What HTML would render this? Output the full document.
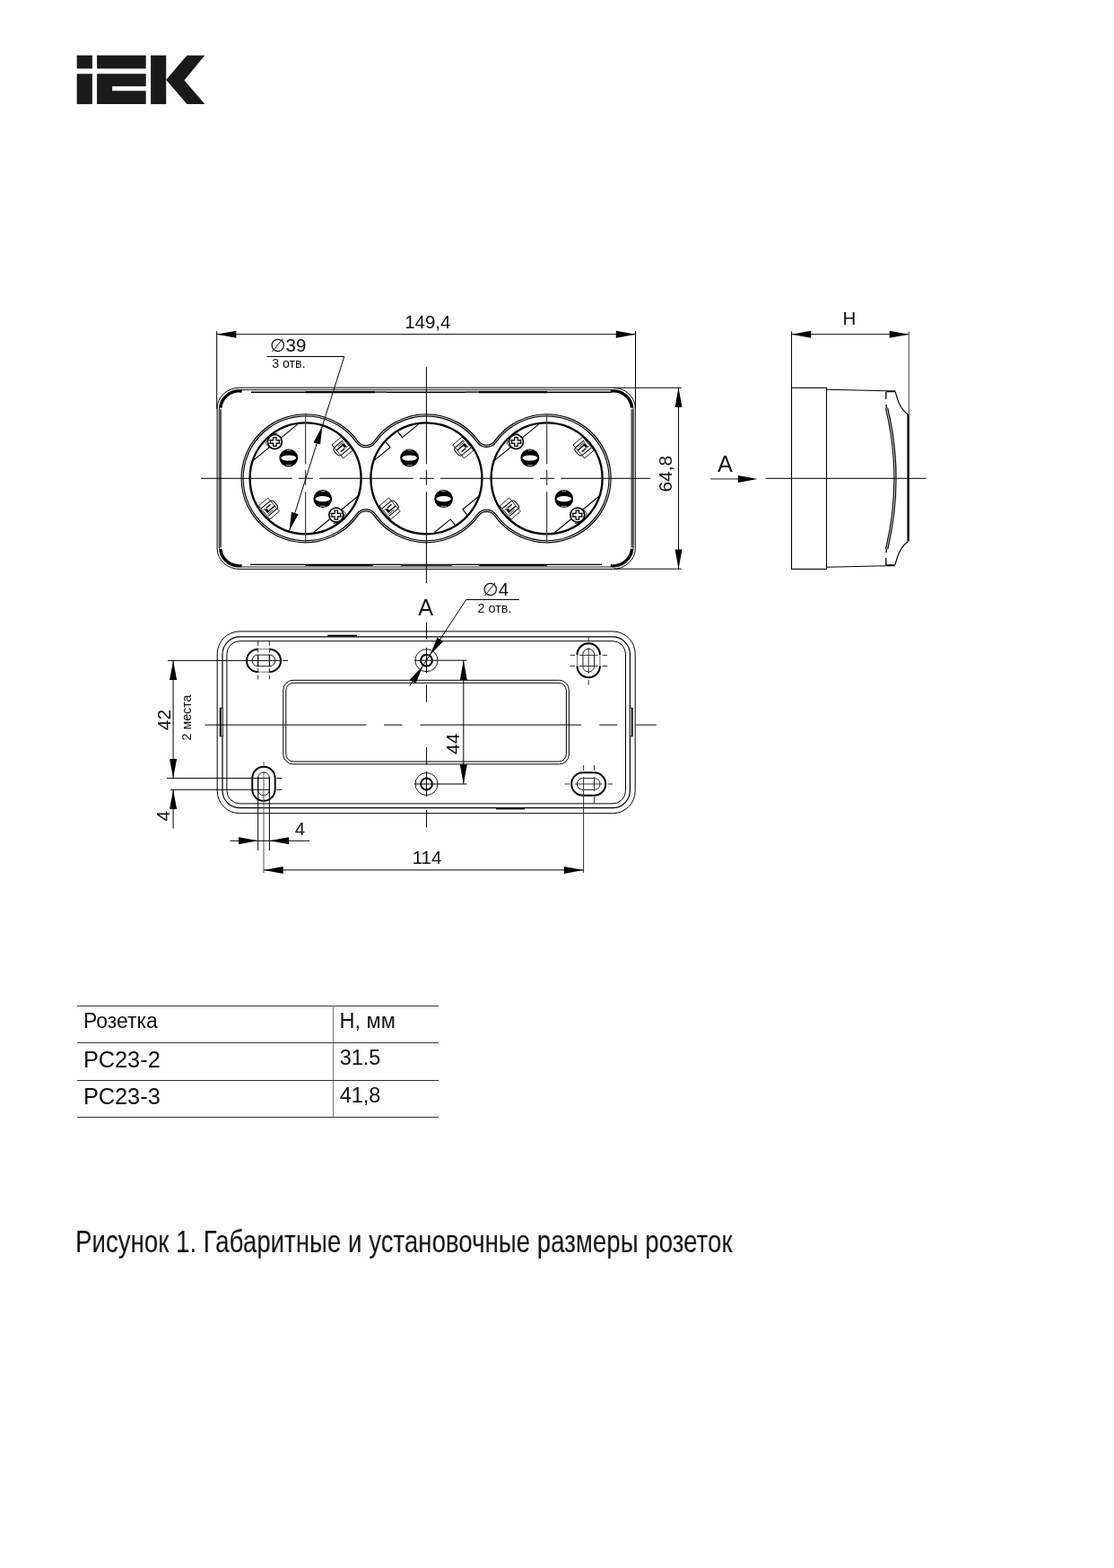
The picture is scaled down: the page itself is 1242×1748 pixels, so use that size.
<!DOCTYPE html>
<html lang="ru">
<head>
<meta charset="utf-8">
<title>Рисунок 1. Габаритные и установочные размеры розеток</title>
<style>
html,body{margin:0;padding:0;background:#fefefe;}
body{width:1242px;height:1748px;position:relative;overflow:hidden;font-family:"Liberation Sans",sans-serif;color:#111;}
svg{position:absolute;left:0;top:0;display:block;will-change:transform;}
table.spec,p.caption{will-change:transform;}
svg text{font-family:"Liberation Sans",sans-serif;fill:#111;}
svg .dia{font-family:"DejaVu Sans","Liberation Sans",sans-serif;font-size:20.2px;}
table.spec{position:absolute;left:86px;top:1121px;width:403px;border-collapse:collapse;table-layout:fixed;font-size:23.5px;line-height:1;}
table.spec td{height:41.3px;padding:0;border-top:1.2px solid #333;border-bottom:1.2px solid #333;vertical-align:top;box-sizing:border-box;white-space:nowrap;}
table.spec td.c1{width:285px;border-right:1.4px solid #777;}
table.spec td span{display:block;position:relative;height:0;transform:scaleX(0.975);transform-origin:0 0;}
table.spec td span.b{font-size:24.9px;transform:scaleX(1.02);}
p.caption{position:absolute;left:83.6px;top:1363.6px;margin:0;font-size:34.5px;line-height:40px;white-space:nowrap;transform:scaleX(0.802);transform-origin:0 0;color:#111;}
</style>
</head>
<body>
<svg width="1242" height="1748" viewBox="0 0 1242 1748">
<g id="logo" role="img" aria-label="IEK" fill="#1a1a1a"><title>IEK</title>
<rect x="85.7" y="61.7" width="17.2" height="14.8"/>
<rect x="85.7" y="82.3" width="17.2" height="33.8"/>
<rect x="108.1" y="61.7" width="54.6" height="14.8"/>
<path d="M108.1 82.3H162.7V96.2H125.1V101.2H162.7V116.1H108.1Z"/>
<rect x="168.1" y="61.7" width="17.1" height="54.4"/>
<path d="M208.4 61.7H228.3L205.5 89.4L228.3 116.1H208.4L185.2 88.9Z"/>
</g>
<g id="top-view">
<rect x="242.1" y="432.2" width="466.2" height="202.2" rx="25" ry="23" fill="none" stroke="#000" stroke-width="1"/>
<rect x="244.5" y="434.6" width="461.4" height="197.4" rx="22.6" ry="20.6" fill="none" stroke="#000" stroke-width="0.9"/>
<line x1="245.3" y1="456.2" x2="245.3" y2="610.4" stroke="#555" stroke-width="3.4" />
<line x1="705.1" y1="456.2" x2="705.1" y2="610.4" stroke="#555" stroke-width="3.4" />
<path d="M246 454.7A20.6 20.6 0 0 1 269.6 436.1" fill="none" stroke="#000" stroke-width="3.1"/>
<path d="M704.4 454.7A20.6 20.6 0 0 0 680.8 436.1" fill="none" stroke="#000" stroke-width="3.1"/>
<path d="M246 611.9A20.6 20.6 0 0 0 269.6 630.5" fill="none" stroke="#000" stroke-width="3.1"/>
<path d="M704.4 611.9A20.6 20.6 0 0 1 680.8 630.5" fill="none" stroke="#000" stroke-width="3.1"/>
<line x1="280" y1="437.2" x2="681.5" y2="437.2" stroke="#000" stroke-width="1.4" />
<line x1="279" y1="629.4" x2="671" y2="629.4" stroke="#000" stroke-width="1.4" />
<line x1="340.5" y1="437.2" x2="418" y2="437.2" stroke="#000" stroke-width="2.2" />
<line x1="418" y1="437.2" x2="431" y2="437.2" stroke="#444" stroke-width="1.8" />
<line x1="518.3" y1="437.2" x2="534" y2="437.2" stroke="#444" stroke-width="1.8" />
<line x1="534" y1="437.2" x2="610" y2="437.2" stroke="#000" stroke-width="2.2" />
<line x1="340.5" y1="630" x2="415.8" y2="630" stroke="#000" stroke-width="2.2" />
<line x1="446.8" y1="630.2" x2="503.8" y2="630.2" stroke="#333" stroke-width="1.8" />
<line x1="533.8" y1="630" x2="610" y2="630" stroke="#000" stroke-width="2.2" />
<path d="M398.2 492.64A12 12 0 0 0 417.8 492.64A70.5 70.5 0 0 1 532.74 492.28A12 12 0 0 0 552.26 492.28A70.5 70.5 0 1 1 552.26 574.32A12 12 0 0 0 532.74 574.32A70.5 70.5 0 0 1 417.8 573.96A12 12 0 0 0 398.2 573.96A70.5 70.5 0 1 1 398.2 492.64Z" fill="none" stroke="#000" stroke-width="3.2"/>
<path d="M398.2 492.64A12 12 0 0 0 417.8 492.64A70.5 70.5 0 0 1 532.74 492.28A12 12 0 0 0 552.26 492.28A70.5 70.5 0 1 1 552.26 574.32A12 12 0 0 0 532.74 574.32A70.5 70.5 0 0 1 417.8 573.96A12 12 0 0 0 398.2 573.96A70.5 70.5 0 1 1 398.2 492.64Z" fill="none" stroke="#fff" stroke-width="0.9"/>
<line x1="281.6" y1="513.9" x2="331.6" y2="473.1" stroke="#000" stroke-width="1.1" />
<path d="M295.9 494L303.4 484L309.4 483M295.9 494L300.4 499.5" stroke="#000" stroke-width="0.8" fill="none"/>
<circle cx="306.4" cy="492.5" r="8.0" fill="#fff" stroke="#000" stroke-width="1.6"/>
<path d="M299.2 490.8H313.6M299.2 494.2H313.6" stroke="#222" stroke-width="0.8" fill="none"/>
<path d="M304.7 487.6H308.1V490.8H311.3V494.2H308.1V497.4H304.7V494.2H301.5V490.8H304.7Z" fill="#fff" stroke="#000" stroke-width="1.25"/>
<line x1="399.6" y1="552.7" x2="349.6" y2="593.5" stroke="#000" stroke-width="1.1" />
<path d="M385.3 572.6L377.8 582.6L371.8 583.6M385.3 572.6L380.8 567.1" stroke="#000" stroke-width="0.8" fill="none"/>
<circle cx="374.8" cy="574.1" r="8.0" fill="#fff" stroke="#000" stroke-width="1.6"/>
<path d="M367.6 572.4H382M367.6 575.8H382" stroke="#222" stroke-width="0.8" fill="none"/>
<path d="M373.1 569.2H376.5V572.4H379.7V575.8H376.5V579H373.1V575.8H369.9V572.4H373.1Z" fill="#fff" stroke="#000" stroke-width="1.25"/>
<g transform="translate(381.6 499) rotate(-40)" fill="none" stroke="#000">
<rect x="-6.9" y="-9.8" width="13.8" height="19.6" stroke-width="0.8"/>
<path d="M5.6 -5.8H-6Q-9.4 -5.8 -9.4 -2.4V1.6Q-9.4 5.6 -5.6 5.6H6.6" stroke-width="1.05"/>
<path d="M-6.8 -1.9H2.6M-4.4 2.4H1.6" stroke-width="1.4"/>
<path d="M-3 -4H5.4M2.4 2.6H5.8" stroke-width="0.8"/>
<path d="M1.6 -2.8H4.6V1.8H1.6Z" fill="#000" stroke="none"/>
</g>
<g transform="translate(299.8 567) rotate(140)" fill="none" stroke="#000">
<rect x="-6.9" y="-9.8" width="13.8" height="19.6" stroke-width="0.8"/>
<path d="M5.6 -5.8H-6Q-9.4 -5.8 -9.4 -2.4V1.6Q-9.4 5.6 -5.6 5.6H6.6" stroke-width="1.05"/>
<path d="M-6.8 -1.9H2.6M-4.4 2.4H1.6" stroke-width="1.4"/>
<path d="M-3 -4H5.4M2.4 2.6H5.8" stroke-width="0.8"/>
<path d="M1.6 -2.8H4.6V1.8H1.6Z" fill="#000" stroke="none"/>
</g>
<ellipse cx="321.8" cy="510.5" rx="10.4" ry="10" fill="#000"/>
<ellipse cx="321.8" cy="510.5" rx="8.3" ry="3.1" fill="#fff"/>
<path d="M319.6 502.1H324M319 518.7H324.8" stroke="#fff" stroke-width="0.7" fill="none"/>
<ellipse cx="359.8" cy="556.1" rx="10.4" ry="10" fill="#000"/>
<ellipse cx="359.8" cy="556.1" rx="8.3" ry="3.1" fill="#fff"/>
<path d="M357.6 547.7H362M357 564.3H362.8" stroke="#fff" stroke-width="0.7" fill="none"/>
<circle cx="340.6" cy="533.3" r="62" fill="none" stroke="#000" stroke-width="2.3"/>
<path d="M416.4 513.9L434.99 498.73L429.75 492.3M466.4 473.1L448.55 487.66L443.5 481.46" stroke="#000" stroke-width="1.1" fill="none"/>
<path d="M534.4 552.7L515.81 567.87L521.05 574.3M484.4 593.5L502.25 578.94L507.3 585.14" stroke="#000" stroke-width="1.1" fill="none"/>
<g transform="translate(516.4 499) rotate(-40)" fill="none" stroke="#000">
<rect x="-6.9" y="-9.8" width="13.8" height="19.6" stroke-width="0.8"/>
<path d="M5.6 -5.8H-6Q-9.4 -5.8 -9.4 -2.4V1.6Q-9.4 5.6 -5.6 5.6H6.6" stroke-width="1.05"/>
<path d="M-6.8 -1.9H2.6M-4.4 2.4H1.6" stroke-width="1.4"/>
<path d="M-3 -4H5.4M2.4 2.6H5.8" stroke-width="0.8"/>
<path d="M1.6 -2.8H4.6V1.8H1.6Z" fill="#000" stroke="none"/>
</g>
<g transform="translate(434.6 567) rotate(140)" fill="none" stroke="#000">
<rect x="-6.9" y="-9.8" width="13.8" height="19.6" stroke-width="0.8"/>
<path d="M5.6 -5.8H-6Q-9.4 -5.8 -9.4 -2.4V1.6Q-9.4 5.6 -5.6 5.6H6.6" stroke-width="1.05"/>
<path d="M-6.8 -1.9H2.6M-4.4 2.4H1.6" stroke-width="1.4"/>
<path d="M-3 -4H5.4M2.4 2.6H5.8" stroke-width="0.8"/>
<path d="M1.6 -2.8H4.6V1.8H1.6Z" fill="#000" stroke="none"/>
</g>
<ellipse cx="456.6" cy="510.5" rx="10.4" ry="10" fill="#000"/>
<ellipse cx="456.6" cy="510.5" rx="8.3" ry="3.1" fill="#fff"/>
<path d="M454.4 502.1H458.8M453.8 518.7H459.6" stroke="#fff" stroke-width="0.7" fill="none"/>
<ellipse cx="494.6" cy="556.1" rx="10.4" ry="10" fill="#000"/>
<ellipse cx="494.6" cy="556.1" rx="8.3" ry="3.1" fill="#fff"/>
<path d="M492.4 547.7H496.8M491.8 564.3H497.6" stroke="#fff" stroke-width="0.7" fill="none"/>
<circle cx="475.4" cy="533.3" r="62" fill="none" stroke="#000" stroke-width="2.3"/>
<line x1="550.6" y1="513.9" x2="600.6" y2="473.1" stroke="#000" stroke-width="1.1" />
<path d="M564.9 494L572.4 484L578.4 483M564.9 494L569.4 499.5" stroke="#000" stroke-width="0.8" fill="none"/>
<circle cx="575.4" cy="492.5" r="8.0" fill="#fff" stroke="#000" stroke-width="1.6"/>
<path d="M568.2 490.8H582.6M568.2 494.2H582.6" stroke="#222" stroke-width="0.8" fill="none"/>
<path d="M573.7 487.6H577.1V490.8H580.3V494.2H577.1V497.4H573.7V494.2H570.5V490.8H573.7Z" fill="#fff" stroke="#000" stroke-width="1.25"/>
<line x1="668.6" y1="552.7" x2="618.6" y2="593.5" stroke="#000" stroke-width="1.1" />
<path d="M654.3 572.6L646.8 582.6L640.8 583.6M654.3 572.6L649.8 567.1" stroke="#000" stroke-width="0.8" fill="none"/>
<circle cx="643.8" cy="574.1" r="8.0" fill="#fff" stroke="#000" stroke-width="1.6"/>
<path d="M636.6 572.4H651M636.6 575.8H651" stroke="#222" stroke-width="0.8" fill="none"/>
<path d="M642.1 569.2H645.5V572.4H648.7V575.8H645.5V579H642.1V575.8H638.9V572.4H642.1Z" fill="#fff" stroke="#000" stroke-width="1.25"/>
<g transform="translate(650.6 499) rotate(-40)" fill="none" stroke="#000">
<rect x="-6.9" y="-9.8" width="13.8" height="19.6" stroke-width="0.8"/>
<path d="M5.6 -5.8H-6Q-9.4 -5.8 -9.4 -2.4V1.6Q-9.4 5.6 -5.6 5.6H6.6" stroke-width="1.05"/>
<path d="M-6.8 -1.9H2.6M-4.4 2.4H1.6" stroke-width="1.4"/>
<path d="M-3 -4H5.4M2.4 2.6H5.8" stroke-width="0.8"/>
<path d="M1.6 -2.8H4.6V1.8H1.6Z" fill="#000" stroke="none"/>
</g>
<g transform="translate(568.8 567) rotate(140)" fill="none" stroke="#000">
<rect x="-6.9" y="-9.8" width="13.8" height="19.6" stroke-width="0.8"/>
<path d="M5.6 -5.8H-6Q-9.4 -5.8 -9.4 -2.4V1.6Q-9.4 5.6 -5.6 5.6H6.6" stroke-width="1.05"/>
<path d="M-6.8 -1.9H2.6M-4.4 2.4H1.6" stroke-width="1.4"/>
<path d="M-3 -4H5.4M2.4 2.6H5.8" stroke-width="0.8"/>
<path d="M1.6 -2.8H4.6V1.8H1.6Z" fill="#000" stroke="none"/>
</g>
<ellipse cx="590.8" cy="510.5" rx="10.4" ry="10" fill="#000"/>
<ellipse cx="590.8" cy="510.5" rx="8.3" ry="3.1" fill="#fff"/>
<path d="M588.6 502.1H593M588 518.7H593.8" stroke="#fff" stroke-width="0.7" fill="none"/>
<ellipse cx="628.8" cy="556.1" rx="10.4" ry="10" fill="#000"/>
<ellipse cx="628.8" cy="556.1" rx="8.3" ry="3.1" fill="#fff"/>
<path d="M626.6 547.7H631M626 564.3H631.8" stroke="#fff" stroke-width="0.7" fill="none"/>
<circle cx="609.6" cy="533.3" r="62" fill="none" stroke="#000" stroke-width="2.3"/>
<line x1="224" y1="533.3" x2="325.8" y2="533.3" stroke="#000" stroke-width="1" />
<line x1="333" y1="533.3" x2="349" y2="533.3" stroke="#000" stroke-width="1" />
<line x1="356.1" y1="533.3" x2="460.6" y2="533.3" stroke="#000" stroke-width="1" />
<line x1="467.8" y1="533.3" x2="483.8" y2="533.3" stroke="#000" stroke-width="1" />
<line x1="490.9" y1="533.3" x2="594.8" y2="533.3" stroke="#000" stroke-width="1" />
<line x1="602" y1="533.3" x2="618" y2="533.3" stroke="#000" stroke-width="1" />
<line x1="625.1" y1="533.3" x2="725" y2="533.3" stroke="#000" stroke-width="1" />
<line x1="340.6" y1="461.8" x2="340.6" y2="517.3" stroke="#444" stroke-width="1.25" />
<line x1="340.6" y1="523.8" x2="340.6" y2="540.8" stroke="#444" stroke-width="1.25" />
<line x1="340.6" y1="548.3" x2="340.6" y2="604.8" stroke="#444" stroke-width="1.25" />
<line x1="475.4" y1="409.4" x2="475.4" y2="517.3" stroke="#000" stroke-width="1" />
<line x1="475.4" y1="523.8" x2="475.4" y2="540.8" stroke="#000" stroke-width="1" />
<line x1="475.4" y1="548.3" x2="475.4" y2="650" stroke="#000" stroke-width="1" />
<line x1="609.6" y1="461.8" x2="609.6" y2="517.3" stroke="#444" stroke-width="1.25" />
<line x1="609.6" y1="523.8" x2="609.6" y2="540.8" stroke="#444" stroke-width="1.25" />
<line x1="609.6" y1="548.3" x2="609.6" y2="604.8" stroke="#444" stroke-width="1.25" />
<line x1="241.7" y1="369" x2="241.7" y2="456" stroke="#000" stroke-width="1" />
<line x1="708.5" y1="369" x2="708.5" y2="456" stroke="#000" stroke-width="1" />
<line x1="241.7" y1="372.7" x2="708.5" y2="372.7" stroke="#000" stroke-width="1" />
<polygon points="241.7,372.7 263.4,368.7 263.4,376.7" fill="#000"/>
<polygon points="708.5,372.7 686.8,376.7 686.8,368.7" fill="#000"/>
<text x="476.8" y="366.3" font-size="20.5" text-anchor="middle" >149,4</text>
<line x1="684" y1="432.3" x2="759.8" y2="432.3" stroke="#000" stroke-width="1" />
<line x1="684" y1="634.2" x2="759.8" y2="634.2" stroke="#000" stroke-width="1" />
<line x1="756.5" y1="432.3" x2="756.5" y2="634.2" stroke="#000" stroke-width="1" />
<polygon points="756.5,432.3 760.5,454 752.5,454" fill="#000"/>
<polygon points="756.5,634.2 752.5,612.5 760.5,612.5" fill="#000"/>
<text transform="translate(749.1 528.2) rotate(-90) scale(1 1)" x="0" y="0" font-size="20.91" text-anchor="middle" >64,8</text>
<line x1="297.8" y1="397.5" x2="383.8" y2="397.5" stroke="#000" stroke-width="1" />
<line x1="383.8" y1="397.5" x2="322.6" y2="591.6" stroke="#000" stroke-width="1" />
<polygon points="322.6,591.6 324.98,570.75 332.61,573.16" fill="#000"/>
<polygon points="359.44,474.77 357.06,495.62 349.43,493.21" fill="#000"/>
<text x="301" y="392.3" font-size="20.5" text-anchor="start" ><tspan class="dia">&#8709;</tspan>39</text>
<text x="303.2" y="409.6" font-size="14.2" text-anchor="start" >3 отв.</text>
</g>
<g id="side-view">
<rect x="882.5" y="432.3" width="39" height="202.1" fill="none" stroke="#000" stroke-width="1.1"/>
<path d="M921.5 434.2L988 435.8M921.5 632.2L988 630.8" fill="none" stroke="#000" stroke-width="1.1"/>
<path d="M988 436.3H998.2M988 630.3H997.5" fill="none" stroke="#000" stroke-width="2"/>
<path d="M998.2 436.6C1001.5 449 1004.5 457 1012.4 462M997.8 629.8C1001.5 617 1004.5 609 1012.4 603.8" fill="none" stroke="#000" stroke-width="1.2"/>
<line x1="1012.6" y1="461.5" x2="1012.6" y2="603.5" stroke="#000" stroke-width="2.4" />
<path d="M987.8 437V445M988.2 451V457M988.2 616V610M987.8 630V622" fill="none" stroke="#000" stroke-width="1.3"/>
<path d="M988.6 455Q1007.4 533.3 988.6 612" fill="none" stroke="#000" stroke-width="3.3"/>
<path d="M988.6 455Q1007.4 533.3 988.6 612" fill="none" stroke="#fff" stroke-width="0.9"/>
<line x1="853.5" y1="533.3" x2="1032.5" y2="533.3" stroke="#000" stroke-width="1" />
<line x1="792" y1="533.9" x2="824" y2="533.9" stroke="#444" stroke-width="1.2" />
<polygon points="844.6,533.9 822.8,537.9 822.8,529.9" fill="#000"/>
<text x="808.4" y="525.7" font-size="25.2" text-anchor="middle" >A</text>
<line x1="882.5" y1="369.5" x2="882.5" y2="432" stroke="#000" stroke-width="1" />
<line x1="1013.4" y1="369.5" x2="1013.4" y2="462" stroke="#777" stroke-width="1.5" />
<line x1="882.5" y1="372.7" x2="1013.4" y2="372.7" stroke="#000" stroke-width="1" />
<polygon points="882.5,372.7 904.2,368.7 904.2,376.7" fill="#000"/>
<polygon points="1013.4,372.7 991.7,376.7 991.7,368.7" fill="#000"/>
<text x="946.8" y="361.8" font-size="20.5" text-anchor="middle" >H</text>
</g>
<g id="bottom-view">
<rect x="242.2" y="703.9" width="466" height="202.8" rx="25" ry="25" fill="none" stroke="#000" stroke-width="1" />
<rect x="248" y="709.9" width="454.4" height="190.8" rx="19.5" ry="19.5" fill="none" stroke="#000" stroke-width="1.2" />
<rect x="252.9" y="714.7" width="444.6" height="181.2" rx="14.5" ry="14.5" fill="none" stroke="#000" stroke-width="1" />
<rect x="245.2" y="789.2" width="3" height="31.7" fill="#fff" stroke="#000" stroke-width="0.8"/>
<line x1="245.9" y1="789.2" x2="245.9" y2="820.9" stroke="#000" stroke-width="2" />
<rect x="702.2" y="789.2" width="2.8" height="31.7" fill="#fff" stroke="#000" stroke-width="0.8"/>
<line x1="704.6" y1="789.2" x2="704.6" y2="820.9" stroke="#000" stroke-width="1.6" />
<line x1="365.3" y1="708.6" x2="398" y2="708.6" stroke="#000" stroke-width="1.6" />
<line x1="553" y1="901.6" x2="585" y2="901.6" stroke="#000" stroke-width="1.6" />
<rect x="315.8" y="758.3" width="318.6" height="93.6" rx="11" ry="11" fill="none" stroke="#000" stroke-width="1" />
<rect x="318.8" y="761.3" width="312.6" height="87.7" rx="8.5" ry="8.5" fill="none" stroke="#000" stroke-width="1" />
<line x1="228.6" y1="808.1" x2="408.3" y2="808.1" stroke="#000" stroke-width="1" />
<line x1="428" y1="808.1" x2="448.5" y2="808.1" stroke="#000" stroke-width="1" />
<line x1="468.5" y1="808.1" x2="648" y2="808.1" stroke="#000" stroke-width="1" />
<line x1="668.2" y1="808.1" x2="688.3" y2="808.1" stroke="#000" stroke-width="1" />
<line x1="709.2" y1="808.1" x2="731.8" y2="808.1" stroke="#000" stroke-width="1" />
<line x1="475.5" y1="693.6" x2="475.5" y2="712.5" stroke="#000" stroke-width="1" />
<line x1="475.5" y1="722" x2="475.5" y2="750" stroke="#000" stroke-width="1" />
<line x1="475.5" y1="763" x2="475.5" y2="782.5" stroke="#000" stroke-width="1" />
<line x1="475.5" y1="833" x2="475.5" y2="852.5" stroke="#000" stroke-width="1" />
<line x1="475.5" y1="860" x2="475.5" y2="888" stroke="#000" stroke-width="1" />
<line x1="475.5" y1="903" x2="475.5" y2="922.5" stroke="#000" stroke-width="1" />
<circle cx="475.5" cy="736.2" r="12.5" fill="none" stroke="#000" stroke-width="0.9"/>
<circle cx="475.5" cy="736.2" r="6.4" fill="none" stroke="#000" stroke-width="2"/>
<circle cx="475.5" cy="874" r="12.5" fill="none" stroke="#000" stroke-width="0.9"/>
<circle cx="475.5" cy="874" r="6.4" fill="none" stroke="#000" stroke-width="2"/>
<line x1="462" y1="736.2" x2="489" y2="736.2" stroke="#000" stroke-width="1" />
<line x1="462" y1="874" x2="489" y2="874" stroke="#000" stroke-width="1" />
<g transform="translate(294 736.4)" fill="none" stroke="#000">
<path d="M-6.3 -12.7H6.3M-6.3 12.7H6.3" stroke-width="0.9" stroke="#666"/>
<path d="M6.3 -12.7A12.7 12.7 0 0 1 6.3 12.7M-6.3 12.7A12.7 12.7 0 0 1 -6.3 -12.7" stroke-width="2"/>
<rect x="-12.8" y="-6.3" width="25.6" height="12.6" rx="5.8" ry="6.3" stroke-width="0.9"/>
</g>
<g transform="translate(656.2 736.2) rotate(90)" fill="none" stroke="#000">
<path d="M-6.3 -12.7H6.3M-6.3 12.7H6.3" stroke-width="0.9" stroke="#666"/>
<path d="M6.3 -12.7A12.7 12.7 0 0 1 6.3 12.7M-6.3 12.7A12.7 12.7 0 0 1 -6.3 -12.7" stroke-width="2"/>
<rect x="-12.8" y="-6.3" width="25.6" height="12.6" rx="5.8" ry="6.3" stroke-width="0.9"/>
</g>
<g transform="translate(294 873.8) rotate(90)" fill="none" stroke="#000">
<path d="M-6.3 -12.7H6.3A12.7 12.7 0 0 1 6.3 12.7H-6.3A12.7 12.7 0 0 1 -6.3 -12.7Z" stroke-width="1.9"/>
<rect x="-12.8" y="-6.3" width="25.6" height="12.6" rx="5.8" ry="6.3" stroke-width="0.9"/>
</g>
<g transform="translate(656.2 874)" fill="none" stroke="#000">
<path d="M-6.3 -12.7H6.3A12.7 12.7 0 0 1 6.3 12.7H-6.3A12.7 12.7 0 0 1 -6.3 -12.7Z" stroke-width="1.9"/>
<rect x="-12.8" y="-6.3" width="25.6" height="12.6" rx="5.8" ry="6.3" stroke-width="0.9"/>
</g>
<line x1="287.7" y1="715" x2="287.7" y2="758" stroke="#333" stroke-width="1" stroke-dasharray="5 2.5"/>
<line x1="300.4" y1="715" x2="300.4" y2="758" stroke="#333" stroke-width="1" stroke-dasharray="5 2.5"/>
<line x1="287.7" y1="730" x2="287.7" y2="743" stroke="#000" stroke-width="1" />
<line x1="300.4" y1="730" x2="300.4" y2="743" stroke="#000" stroke-width="1" />
<line x1="187" y1="736.4" x2="313" y2="736.4" stroke="#000" stroke-width="1" />
<line x1="315.5" y1="736.4" x2="321" y2="736.4" stroke="#000" stroke-width="1" />
<line x1="186" y1="867.6" x2="301" y2="867.6" stroke="#000" stroke-width="1" />
<line x1="190" y1="880.3" x2="301" y2="880.3" stroke="#000" stroke-width="1" />
<line x1="308.5" y1="867.6" x2="314.5" y2="867.6" stroke="#000" stroke-width="1" />
<line x1="308.5" y1="880.3" x2="314.5" y2="880.3" stroke="#000" stroke-width="1" />
<line x1="294" y1="849" x2="294" y2="853" stroke="#555" stroke-width="1" />
<line x1="294" y1="860" x2="294" y2="973" stroke="#555" stroke-width="1" />
<line x1="287.7" y1="866" x2="287.7" y2="948" stroke="#000" stroke-width="1" />
<line x1="300.4" y1="866" x2="300.4" y2="948" stroke="#000" stroke-width="1" />
<line x1="656.2" y1="710" x2="656.2" y2="715.5" stroke="#333" stroke-width="1" />
<line x1="656.2" y1="722" x2="656.2" y2="751" stroke="#333" stroke-width="1" />
<line x1="656.2" y1="758" x2="656.2" y2="763.6" stroke="#333" stroke-width="1" />
<line x1="635.5" y1="730.4" x2="641" y2="730.4" stroke="#333" stroke-width="1" />
<line x1="646" y1="730.4" x2="666.5" y2="730.4" stroke="#333" stroke-width="1" />
<line x1="671.5" y1="730.4" x2="677" y2="730.4" stroke="#333" stroke-width="1" />
<line x1="635.5" y1="742.5" x2="641" y2="742.5" stroke="#333" stroke-width="1" />
<line x1="646" y1="742.5" x2="666.5" y2="742.5" stroke="#333" stroke-width="1" />
<line x1="671.5" y1="742.5" x2="677" y2="742.5" stroke="#333" stroke-width="1" />
<line x1="629.5" y1="874" x2="635" y2="874" stroke="#333" stroke-width="1" />
<line x1="641" y1="874" x2="671" y2="874" stroke="#333" stroke-width="1" />
<line x1="677.5" y1="874" x2="683" y2="874" stroke="#333" stroke-width="1" />
<line x1="650.6" y1="853" x2="650.6" y2="858.8" stroke="#333" stroke-width="1" />
<line x1="662.5" y1="853" x2="662.5" y2="858.8" stroke="#333" stroke-width="1" />
<line x1="650.6" y1="866.2" x2="650.6" y2="973" stroke="#333" stroke-width="1" />
<line x1="662.5" y1="866.2" x2="662.5" y2="882" stroke="#333" stroke-width="1" />
<line x1="662.5" y1="888.3" x2="662.5" y2="895.3" stroke="#333" stroke-width="1" />
<line x1="294" y1="969.9" x2="650.6" y2="969.9" stroke="#000" stroke-width="1" />
<polygon points="294,969.9 315.7,965.9 315.7,973.9" fill="#000"/>
<polygon points="650.6,969.9 628.9,973.9 628.9,965.9" fill="#000"/>
<text x="476" y="962.8" font-size="20.5" text-anchor="middle" >114</text>
<line x1="256.5" y1="937.3" x2="345" y2="937.3" stroke="#000" stroke-width="1" />
<polygon points="287.7,937.3 266,941.3 266,933.3" fill="#000"/>
<polygon points="300.4,937.3 322.1,933.3 322.1,941.3" fill="#000"/>
<text x="334.5" y="931" font-size="20.5" text-anchor="middle" >4</text>
<line x1="193.1" y1="736.4" x2="193.1" y2="867.6" stroke="#000" stroke-width="1" />
<polygon points="193.1,736.4 197.1,758.1 189.1,758.1" fill="#000"/>
<polygon points="193.1,867.6 189.1,845.9 197.1,845.9" fill="#000"/>
<text transform="translate(190.3 802.6) rotate(-90) scale(1 1)" x="0" y="0" font-size="20.91" text-anchor="middle" >42</text>
<text transform="translate(212.8 800) rotate(-90) scale(1 1)" x="0" y="0" font-size="14.2" text-anchor="middle" >2 места</text>
<line x1="193.1" y1="880.3" x2="193.1" y2="923.5" stroke="#000" stroke-width="1" />
<polygon points="193.1,880.3 197.1,902 189.1,902" fill="#000"/>
<text transform="translate(189.4 909.8) rotate(-90) scale(1 1)" x="0" y="0" font-size="20.91" text-anchor="middle" >4</text>
<line x1="489" y1="736.2" x2="520.5" y2="736.2" stroke="#000" stroke-width="1" />
<line x1="489" y1="874" x2="520.5" y2="874" stroke="#000" stroke-width="1" />
<line x1="516.8" y1="736.2" x2="516.8" y2="874" stroke="#000" stroke-width="1" />
<polygon points="516.8,736.2 520.8,757.9 512.8,757.9" fill="#000"/>
<polygon points="516.8,874 512.8,852.3 520.8,852.3" fill="#000"/>
<text transform="translate(512 829.3) rotate(-90) scale(1 1)" x="0" y="0" font-size="20.91" text-anchor="middle" >44</text>
<line x1="519.7" y1="668.5" x2="579" y2="668.5" stroke="#000" stroke-width="1" />
<line x1="519.7" y1="668.5" x2="456.9" y2="764.4" stroke="#000" stroke-width="1" />
<polygon points="479.55,730.01 487.52,710.72 494.05,715" fill="#000"/>
<polygon points="471.45,742.39 463.48,761.68 456.95,757.4" fill="#000"/>
<text x="538.1" y="663.8" font-size="20.5" text-anchor="start" ><tspan class="dia">&#8709;</tspan>4</text>
<text x="532.5" y="682.7" font-size="14.4" text-anchor="start" >2 отв.</text>
<text x="474.6" y="685.9" font-size="25.2" text-anchor="middle" >A</text>
</g>
</svg>
<table class="spec">
<tr><td class="c1"><span style="left:7.2px;top:5px">Розетка</span></td><td><span style="left:7px;top:5px;transform:scaleX(1)">Н, мм</span></td></tr>
<tr><td class="c1"><span class="b" style="left:7.4px;top:5.6px">РС23-2</span></td><td><span style="left:7.2px;top:5px;transform:scaleX(1)">31.5</span></td></tr>
<tr><td class="c1"><span class="b" style="left:7.4px;top:5.6px">РС23-3</span></td><td><span style="left:7.2px;top:5px;transform:scaleX(1)">41,8</span></td></tr>
</table>
<p class="caption">Рисунок 1. Габаритные и установочные размеры розеток</p>
</body>
</html>
